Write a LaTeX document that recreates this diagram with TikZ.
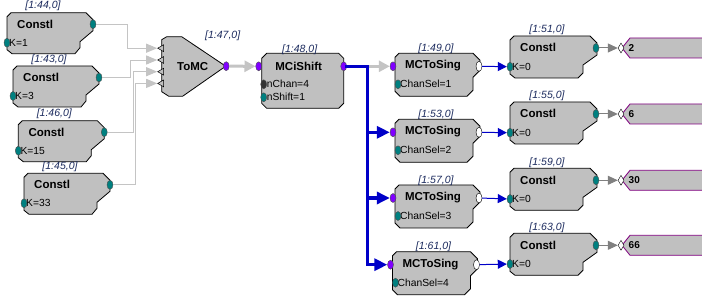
\documentclass[tikz,border=0pt]{standalone}
\usepackage{fontspec}
\setmainfont{Liberation Sans}
\usetikzlibrary{arrows.meta,shapes.geometric}
\definecolor{BlockGray}{HTML}{C0C0C0}
\definecolor{PortTeal}{HTML}{008080}
\definecolor{PortPurple}{HTML}{8000FF}
\definecolor{BusBlue}{HTML}{0000C8}
\definecolor{WireLight}{HTML}{C4C4C4}
\definecolor{WireDark}{HTML}{808080}
\definecolor{TagPurple}{HTML}{800080}
\definecolor{IdNavy}{HTML}{1C2B5E}

\begin{document}
\begin{tikzpicture}[
  x=1pt,y=-1pt,
  blk/.style={fill=BlockGray,draw=black,line width=0.8pt},
  title/.style={font=\bfseries\fontsize{11.5}{12}\selectfont,inner sep=0pt},
  param/.style={font=\fontsize{10.3}{11}\selectfont,inner sep=0pt,anchor=west},
  idlbl/.style={font=\itshape\fontsize{10.5}{11}\selectfont,text=IdNavy,inner sep=0pt},
  port/.style={ellipse,draw=black!70,line width=0.4pt,minimum width=6pt,minimum height=9pt,inner sep=0pt},
  tport/.style={port,fill=PortTeal},
  pport/.style={port,fill=PortPurple},
  kport/.style={port,fill=black!80},
  wport/.style={port,fill=white,draw=black,minimum width=6pt,minimum height=10pt},
  dport/.style={diamond,draw=black,fill=white,line width=0.4pt,minimum width=6pt,minimum height=10pt,inner sep=0pt},
  inport/.style={regular polygon,regular polygon sides=3,shape border rotate=90,draw=black,fill=BlockGray,line width=0.5pt,minimum size=8pt,inner sep=0pt},
  lite/.style={draw=WireLight,line width=0.9pt,-{Triangle[length=11pt,width=9pt]}},
  litebold/.style={draw=WireLight,line width=3pt,-{Triangle[length=11pt,width=11pt]}},
  bus/.style={draw=BusBlue,line width=3.5pt,line cap=rect},
  busarrow/.style={bus,-{Triangle[length=13pt,width=12pt]}},
  thinblue/.style={draw=BusBlue,line width=1pt,-{Triangle[length=9pt,width=9pt]}},
  darkwire/.style={draw=WireDark,line width=1pt,-{Triangle[length=10pt,width=9pt]}},
  tag/.style={fill=BlockGray,draw=TagPurple,line width=0.8pt},
  tagtxt/.style={font=\bfseries\fontsize{10}{10}\selectfont,inner sep=0pt,anchor=west}
]
  \path[use as bounding box,fill=white] (0,0) rectangle (702,299);

  % multichannel merge
  \begin{scope}[shift={(161.7,36.7)}]
    \draw[blk] (0,3) -- (5,0) -- (20,0) -- (64,29.5) -- (21,59.5) -- (7,59.5) -- (0,55) -- cycle;
    \node[title] (tomc) at (31,30) {ToMC};
    \node[idlbl] (tomcid) at (61,-1) {[1:47,0]};
    \foreach \j/\py in {1/11.5,2/23.3,3/35,4/46.7}
      \node[inport] (tm\j) at (0,\py) {};
    \node[pport] (tmo) at (64.5,29.5) {};
  \end{scope}

  \begin{scope}[shift={(261.7,53.3)}]
    \draw[blk] (0,5) -- (5,0) -- (77,0) -- (82,5) -- (82,50) -- (77,55) -- (5,55) -- (0,50) -- cycle;
    \node[title] (shift) at (37,12.7) {MCiShift};
    \node[idlbl] (shiftid) at (38,-4) {[1:48,0]};
    \node[param] (nchan) at (5,31) {nChan=4};
    \node[param] (nshift) at (5,44) {nShift=1};
    \node[pport] (msi) at (-3,13) {};
    \node[pport] (mso) at (82,13) {};
    \node[kport] (chanp) at (2,31) {};
    \node[tport] (shiftp) at (2,44) {};
  \end{scope}
  \draw[litebold] (tmo) -- (msi);

  % constants feeding ToMC
  \foreach \lx/\ly/\lid/\kv/\dx [count=\i] in
    {7/12.7/44/1/34, 13/66/43/3/31, 18.3/120.7/46/15/29, 24/173.3/45/33/25.5} {
    \begin{scope}[shift={(\lx,\ly)}]
      \draw[blk] (0,4) -- (4,0) -- (79,0) -- (86,7) -- (86,18) -- (73,29) -- (73,35) -- (68,41) -- (5,41) -- (0,37) -- cycle;
      \node[title,anchor=west] (cl\i) at (10,11.5) {Constl};
      \node[idlbl] (clid\i) at (36,-6.5) {[1:\lid,0]};
      \node[param] (clk\i) at (2,30) {K=\kv};
      \node[tport] (clo\i) at (86,11.5) {};
      \node[tport] (cli\i) at (0,30) {};
    \end{scope}
    \draw[lite] (clo\i) -- ++(\dx,0) |- (tm\i);
  }

  % channel split and outputs
  \foreach \sx/\sy/\sid/\cy/\cid/\tv [count=\i] in
    {395/53.3/49/36/51/2, 395/119.3/53/102/55/6, 395/185/57/168.3/59/30, 392.5/251.7/61/233.3/63/66} {
    \begin{scope}[shift={(\sx,\sy)}]
      \draw[blk] (0,4) -- (4,0) -- (78,0) -- (85,7) -- (85,17) -- (78,24) -- (78,37) -- (72,43) -- (5,43) -- (0,38) -- cycle;
      \node[title] (sing\i) at (38,12.5) {MCToSing};
      \node[idlbl] (singid\i) at (41,-4.5) {[1:\sid,0]};
      \node[param] (sel\i) at (5,31) {ChanSel=\i};
      \node[pport] (singin\i) at (-2,13) {};
      \node[wport] (singout\i) at (84,13) {};
      \node[tport] (selp\i) at (3,31) {};
    \end{scope}
    \begin{scope}[shift={(510,\cy)}]
      \draw[blk] (0,4) -- (4,0) -- (80,0) -- (87,7) -- (87,19) -- (73,29) -- (73,37) -- (68,42) -- (5,42) -- (0,38) -- cycle;
      \node[title,anchor=west] (cr\i) at (10,11.7) {Constl};
      \node[idlbl] (crid\i) at (37,-6) {[1:\cid,0]};
      \node[param] (crk\i) at (2,30.7) {K=0};
      \node[tport] (cro\i) at (86,12) {};
      \node[tport] (cri\i) at (0,30.7) {};
    \end{scope}
    \draw[tag] (702,\cy+2) -- (630,\cy+2) -- (622,\cy+12) -- (630,\cy+22) -- (702,\cy+22);
    \node[dport] (tagp\i) at (621,\cy+12) {};
    \node[tagtxt] (tagv\i) at (628.5,\cy+12) {\tv};
    \draw[thinblue] (singout\i) -- (cri\i);
    \draw[darkwire] (cro\i) -- (tagp\i);
  }

  \path (mso) -- ++(24,0) coordinate (busA);
  \draw[litebold] (busA) -- (singin1);
  \draw[bus] (mso) -- (busA);
  \foreach \i in {2,3,4}
    \draw[busarrow] (busA) |- (singin\i);
\end{tikzpicture}
\end{document}
